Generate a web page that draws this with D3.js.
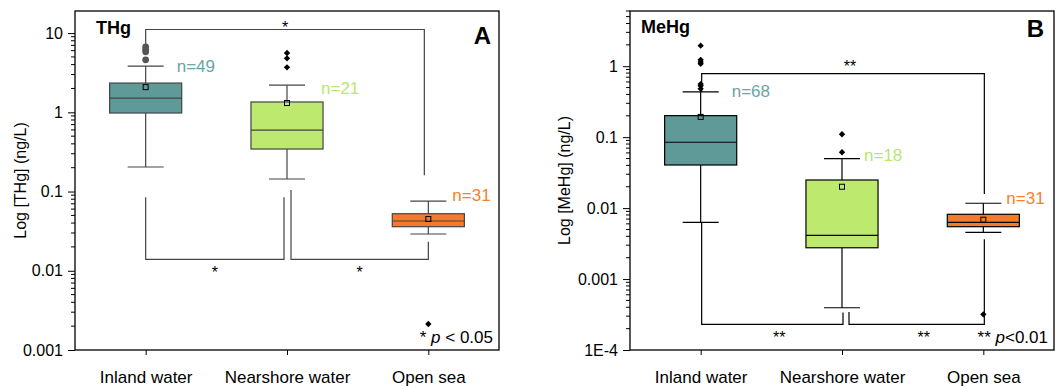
<!DOCTYPE html>
<html>
<head>
<meta charset="utf-8">
<script src="https://cdn.jsdelivr.net/npm/d3@7"></script>
<style>
  body { margin: 0; background: #fff; }
  svg { font-family: Arial, "Liberation Sans", sans-serif; }
</style>
</head>
<body>
<svg id="chart" width="1055" height="387"></svg>
<script>
const categories = ["Inland water", "Nearshore water", "Open sea"];

// Panel A: total mercury (ng/L)
const thgN = [49, 21, 31];
const thgWhiskerLow = [0.204, 0.144, 0.0291];
const thgQ1 = [0.98, 0.344, 0.036];
const thgMedian = [1.51, 0.597, 0.0425];
const thgQ3 = [2.34, 1.35, 0.0525];
const thgWhiskerHigh = [3.83, 2.21, 0.0759];
const thgMean = [2.08, 1.31, 0.045];
const thgOutliers = [[6.7, 6.2, 5.8, 4.6], [5.6, 4.8, 3.7], [0.00213]];
const thgTicks = [0.001, 0.01, 0.1, 1, 10];
const thgTickLabels = ["0.001", "0.01", "0.1", "1", "10"];
const thgSig = [
  { from: 0, to: 2, bar: 11.1, endFrom: 6.7, endTo: 0.161, mark: "*" },
  { from: 0, to: 1, bar: 0.0139, endFrom: 0.0846, endTo: 0.0846, mark: "*" },
  { from: 1, to: 2, bar: 0.0139, endFrom: 0.1045, endTo: 0.0233, mark: "*" }
];

// Panel B: methylmercury (ng/L)
const mehgN = [68, 18, 31];
const mehgWhiskerLow = [0.0063, 0.000394, 0.00456];
const mehgQ1 = [0.0405, 0.00276, 0.00547];
const mehgMedian = [0.0848, 0.00413, 0.0063];
const mehgQ3 = [0.201, 0.0249, 0.00818];
const mehgWhiskerHigh = [0.434, 0.0498, 0.0117];
const mehgMean = [0.193, 0.020, 0.00686];
const mehgOutliers = [[1.95, 1.23, 1.15, 1.08, 0.56, 0.53, 0.48], [0.11, 0.0612], [0.000318]];
const mehgTicks = [0.0001, 0.001, 0.01, 0.1, 1];
const mehgTickLabels = ["1E-4", "0.001", "0.01", "0.1", "1"];
const mehgSig = [
  { from: 0, to: 2, bar: 0.787, endFrom: 0.434, endTo: 0.0158, mark: "**" },
  { from: 0, to: 1, bar: 0.00023, endFrom: 0.0063, endTo: 0.000339, mark: "**" },
  { from: 1, to: 2, bar: 0.00023, endFrom: 0.000342, endTo: 0.00363, mark: "**" }
];

const boxFill = ["#5f9a98", "#bde96e", "#f57b2a"];
const labelColor = ["#6aa6a6", "#b5e870", "#f5822d"];

const svg = d3.select("#chart");

function drawPanel(cfg) {
  const g = svg.append("g");
  const x = d3.scalePoint().domain(categories).range([cfg.left, cfg.right]).padding(0.5);
  const y = d3.scaleLog().domain(cfg.domain).range([cfg.bottom, cfg.top]);
  const boxW = x.step() * 0.51;
  const capW = boxW / 2;
  const cx = i => x(categories[i]);

  // y axis, major + minor log ticks
  const yAx = g.append("g")
    .attr("transform", `translate(${cfg.left},0)`)
    .call(d3.axisLeft(y).tickValues(cfg.ticks).tickFormat((d, i) => cfg.tickLabels[i])
      .tickSize(7).tickPadding(5).tickSizeOuter(0));
  yAx.select(".domain").remove();
  yAx.selectAll("text").attr("font-size", 16).attr("fill", "#000");
  yAx.selectAll("line").attr("stroke", "#000");

  const minor = y.ticks(30).filter(d => !cfg.ticks.some(t => Math.abs(t - d) / t < 1e-6));
  g.append("g").selectAll("line").data(minor).join("line")
    .attr("x1", cfg.left - 4).attr("x2", cfg.left)
    .attr("y1", d => y(d)).attr("y2", d => y(d))
    .attr("stroke", "#000");

  // x axis
  const xAx = g.append("g")
    .attr("transform", `translate(0,${cfg.bottom})`)
    .call(d3.axisBottom(x).tickSize(5).tickPadding(16).tickSizeOuter(0));
  xAx.select(".domain").remove();
  xAx.selectAll("text").attr("font-size", 17).attr("fill", "#000");
  xAx.selectAll("line").attr("stroke", "#000");

  // frame
  g.append("rect")
    .attr("x", cfg.left).attr("y", cfg.top)
    .attr("width", cfg.right - cfg.left).attr("height", cfg.bottom - cfg.top)
    .attr("fill", "none").attr("stroke", "#000").attr("stroke-width", 1.3);

  // significance brackets
  cfg.sig.forEach((s, k) => {
    const xa = cx(s.from) + cfg.sigNudge[k][0];
    const xb = cx(s.to) + cfg.sigNudge[k][1];
    g.append("path")
      .attr("d", `M${xa},${y(s.endFrom)}V${y(s.bar)}H${xb}V${y(s.endTo)}`)
      .attr("fill", "none").attr("stroke", cfg.line).attr("stroke-width", 1.2);
    const above = s.bar > s.endFrom;
    g.append("text")
      .attr("x", (xa + xb) / 2 + cfg.markDx)
      .attr("y", y(s.bar) + (above ? cfg.markAboveDy : 19))
      .attr("text-anchor", "middle").attr("font-size", 16).attr("fill", "#000")
      .text(s.mark);
  });

  // boxes
  categories.forEach((c, i) => {
    const xc = cx(i);
    g.append("line")
      .attr("x1", xc).attr("x2", xc)
      .attr("y1", y(cfg.low[i])).attr("y2", y(cfg.high[i]))
      .attr("stroke", cfg.line).attr("stroke-width", 1.2);
    [cfg.low[i], cfg.high[i]].forEach(v => {
      g.append("line")
        .attr("x1", xc - capW / 2).attr("x2", xc + capW / 2)
        .attr("y1", y(v)).attr("y2", y(v))
        .attr("stroke", cfg.line).attr("stroke-width", 1.2);
    });
    g.append("rect")
      .attr("x", xc - boxW / 2).attr("y", y(cfg.q3[i]))
      .attr("width", boxW).attr("height", y(cfg.q1[i]) - y(cfg.q3[i]))
      .attr("fill", boxFill[i]).attr("stroke", cfg.line).attr("stroke-width", 1.2);
    g.append("line")
      .attr("x1", xc - boxW / 2).attr("x2", xc + boxW / 2)
      .attr("y1", y(cfg.median[i])).attr("y2", y(cfg.median[i]))
      .attr("stroke", cfg.line).attr("stroke-width", 1.2);
    g.append("rect")
      .attr("x", xc - 2.5).attr("y", y(cfg.mean[i]) - 2.5)
      .attr("width", 5).attr("height", 5)
      .attr("fill", "none").attr("stroke", "#000").attr("stroke-width", 1);

    const shape = cfg.outlierShape[i];
    g.append("g").selectAll("path").data(cfg.outliers[i]).join("path")
      .attr("d", shape === "circle" ? d3.symbol(d3.symbolCircle, 36)() : d3.symbol(d3.symbolSquare, 20)())
      .attr("transform", d => `translate(${xc},${y(d)})` + (shape === "circle" ? "" : " rotate(45)"))
      .attr("fill", shape === "circle" ? "#555" : "#000");

    g.append("text")
      .attr("x", xc + capW / 2 + cfg.nDx[i])
      .attr("y", y(cfg.high[i]) + cfg.nDy[i])
      .attr("font-size", 17).attr("fill", labelColor[i])
      .text("n=" + cfg.n[i]);
  });

  // titles
  g.append("text").attr("x", cfg.titleX).attr("y", cfg.titleY)
    .attr("font-size", 18).attr("font-weight", "bold").text(cfg.title);
  g.append("text").attr("x", cfg.letterX).attr("y", cfg.letterY)
    .attr("text-anchor", "end").attr("font-size", 24).attr("font-weight", "bold").text(cfg.letter);

  g.append("text")
    .attr("transform", `translate(${cfg.yLabelX},${(cfg.top + cfg.bottom) / 2}) rotate(-90)`)
    .attr("text-anchor", "middle").attr("font-size", 16).attr("fill", "#000")
    .text(cfg.yLabel);

  const note = g.append("text")
    .attr("x", cfg.right - 6).attr("y", cfg.bottom - 7)
    .attr("text-anchor", "end").attr("font-size", 17).attr("fill", "#000");
  note.append("tspan").text(cfg.noteStars + " ");
  note.append("tspan").attr("font-style", "italic").text("p");
  note.append("tspan").text(cfg.noteText);
}

drawPanel({
  left: 75, right: 499, top: 11, bottom: 350, domain: [0.001, 19],
  ticks: thgTicks, tickLabels: thgTickLabels, line: "#444",
  n: thgN, low: thgWhiskerLow, q1: thgQ1, median: thgMedian, q3: thgQ3,
  high: thgWhiskerHigh, mean: thgMean, outliers: thgOutliers,
  outlierShape: ["circle", "diamond", "diamond"],
  sig: thgSig, sigNudge: [[0, -4], [0, -3], [4, 0]], markDx: 0, markAboveDy: 3.5,
  nDx: [13, 16, 6], nDy: [6, 9, 0],
  title: "THg", titleX: 96, titleY: 34, letter: "A", letterX: 491, letterY: 44,
  yLabel: "Log [THg] (ng/L)", yLabelX: 26,
  noteStars: "*", noteText: " < 0.05"
});

drawPanel({
  left: 630, right: 1054, top: 11, bottom: 350, domain: [0.0001, 6],
  ticks: mehgTicks, tickLabels: mehgTickLabels, line: "#000",
  n: mehgN, low: mehgWhiskerLow, q1: mehgQ1, median: mehgMedian, q3: mehgQ3,
  high: mehgWhiskerHigh, mean: mehgMean, outliers: mehgOutliers,
  outlierShape: ["diamond", "diamond", "diamond"],
  sig: mehgSig, sigNudge: [[1, 1], [1, 1], [7, 1]], markDx: 7, markAboveDy: -2,
  nDx: [13, 4, 5], nDy: [5, 2, 1],
  title: "MeHg", titleX: 641, titleY: 33, letter: "B", letterX: 1044, letterY: 37,
  yLabel: "Log [MeHg] (ng/L)", yLabelX: 570,
  noteStars: "**", noteText: "<0.01"
});
</script>
</body>
</html>
